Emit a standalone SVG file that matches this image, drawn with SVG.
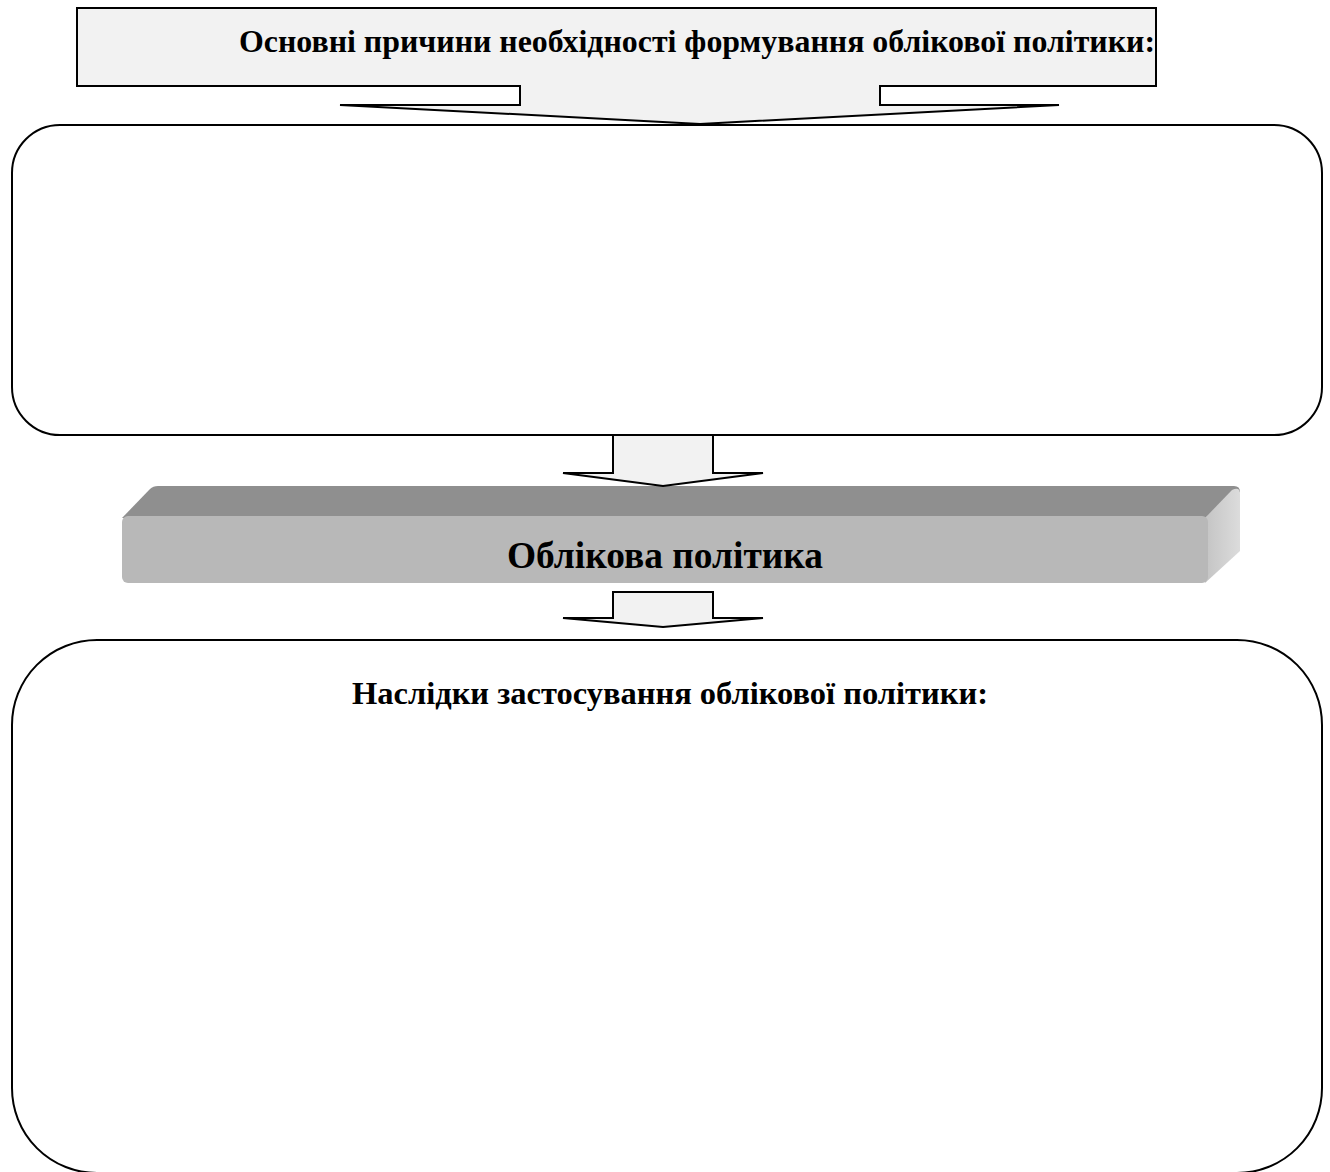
<svg xmlns="http://www.w3.org/2000/svg" width="1330" height="1172" viewBox="0 0 1330 1172">
<defs>
<linearGradient id="side" x1="0" y1="0" x2="1" y2="0">
<stop offset="0" stop-color="#c4c4c4"/>
<stop offset="1" stop-color="#dcdcdc"/>
</linearGradient>
</defs>
<style>
.t{font-family:"Liberation Serif","Times New Roman",serif;font-weight:bold;fill:#000;text-anchor:middle}
.ln{fill:none;stroke:#000;stroke-width:2}
.arr{fill:#f2f2f2;stroke:#000;stroke-width:2;stroke-linejoin:miter}
</style>
<rect width="1330" height="1172" fill="#fff"/>
<g id="reasons">
<path class="arr" d="M77,8 H1156 V86 H880 V105 H1059 L700,124 L340,105 H520 V86 H77 Z"/>
<text class="t" x="697" y="52" font-size="32" textLength="916" lengthAdjust="spacingAndGlyphs">Основні причини необхідності формування облікової політики:</text>
</g>
<g id="reasons-box">
<rect class="ln" x="12" y="125" width="1310" height="310" rx="48" ry="48"/>
</g>
<g id="policy">
<path d="M122,518 L150,489 Q153,486 158,486 H1234 Q1240,486 1240,492 L1205,518 Z" fill="#8f8f8f"/>
<path d="M1205,518 L1232,490 Q1240,486 1240,494 V551 L1205,583 Z" fill="url(#side)"/>
<rect x="122" y="516" width="1086" height="67" rx="6" fill="#b8b8b8"/>
<text class="t" x="665" y="568" font-size="38" textLength="316" lengthAdjust="spacingAndGlyphs">Облікова політика</text>
</g>
<g id="connectors">
<path class="arr" d="M613,435 H713 V473 H763 L663,486 L563,473 H613 Z"/>
<path class="arr" d="M613,592 H713 V618 H763 L663,627 L563,618 H613 Z"/>
</g>
<g id="consequences">
<rect class="ln" x="12" y="640" width="1310" height="533" rx="85" ry="85"/>
<text class="t" x="670" y="704" font-size="32" textLength="636" lengthAdjust="spacingAndGlyphs">Наслідки застосування облікової політики:</text>
</g>
</svg>
